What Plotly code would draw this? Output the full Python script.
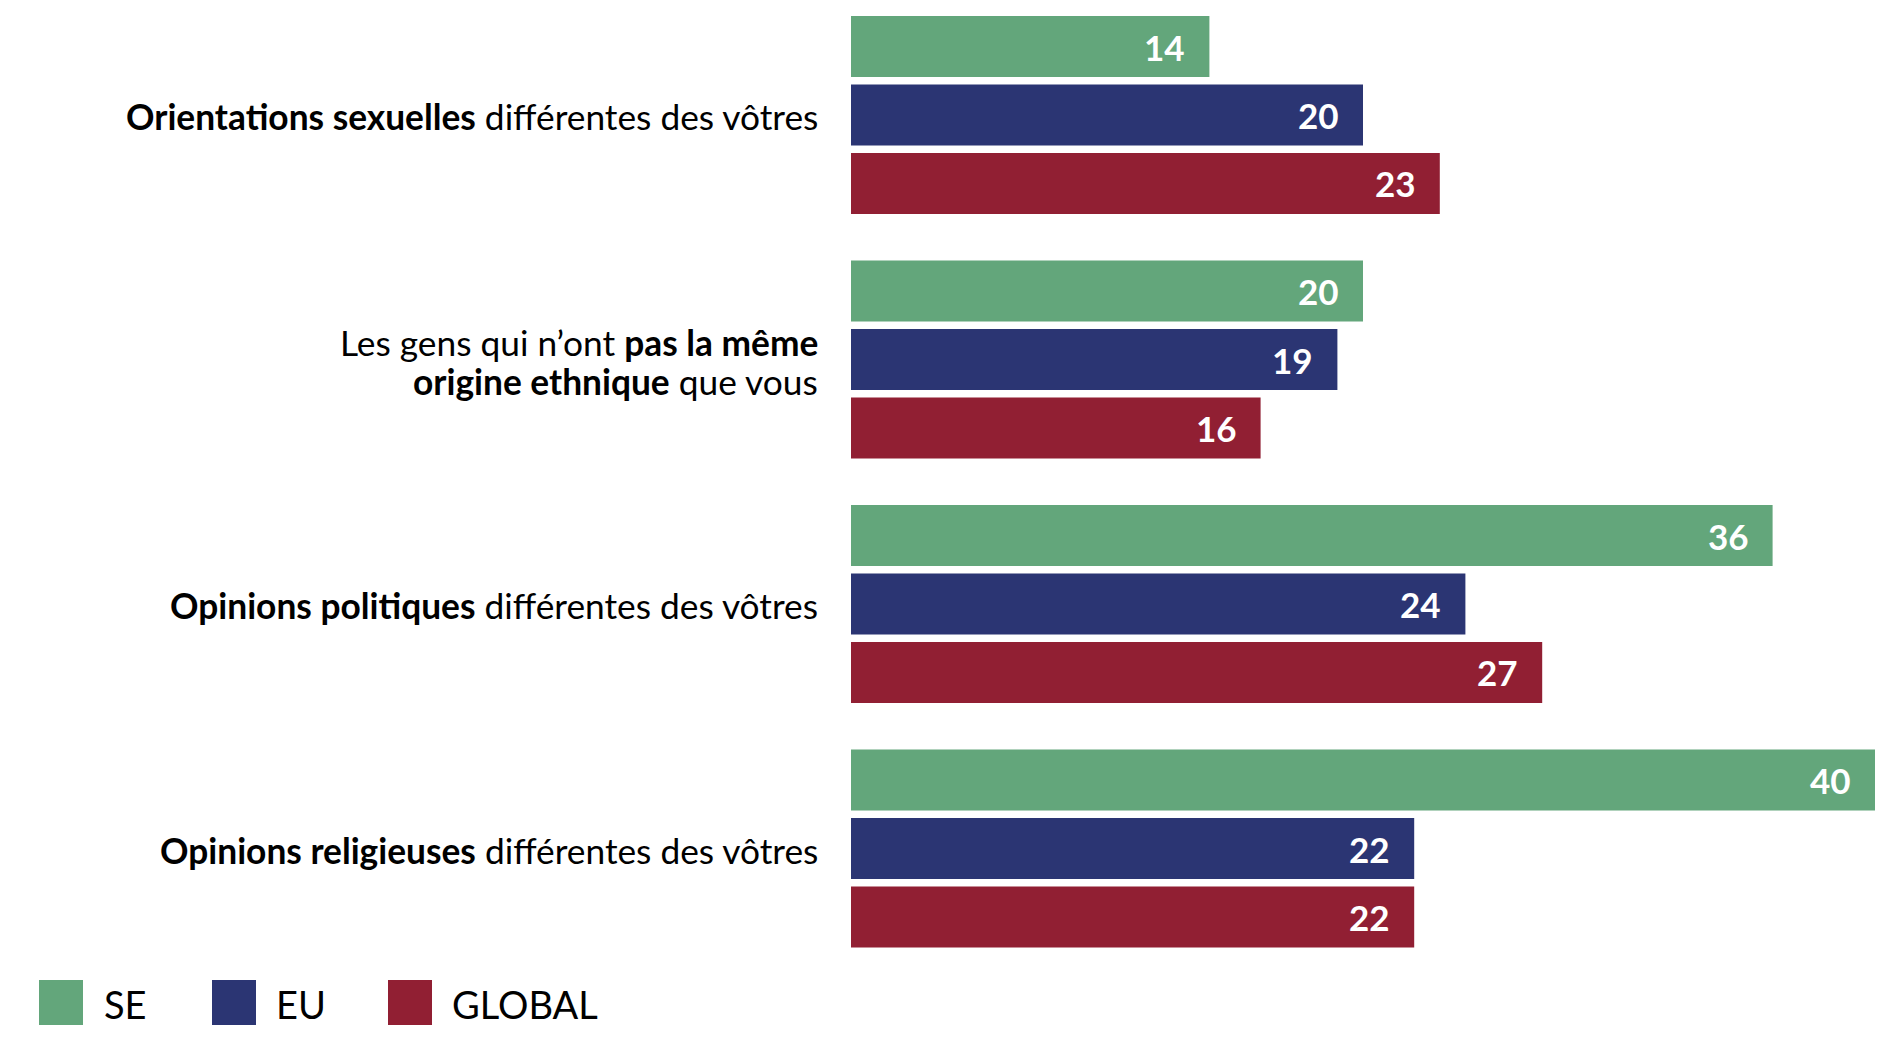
import plotly.graph_objects as go

# categories (top to bottom) and series
categories = [
    "<b>Orientations sexuelles</b> différentes des vôtres",
    "Les gens qui n’ont <b>pas la même</b><br><b>origine ethnique</b> que vous",
    "<b>Opinions politiques</b> différentes des vôtres",
    "<b>Opinions religieuses</b> différentes des vôtres",
]
series_names = ["SE", "EU", "GLOBAL"]
se_values = [14, 20, 36, 40]
eu_values = [20, 19, 24, 22]
global_values = [23, 16, 27, 22]
colors = ["#63a67b", "#2b3573", "#911f33"]

W, H = 1896, 1048
L, R, T, B = 843, 29, 0, 73
FONT = "Lato"

fig = go.Figure()
for name, vals, col in zip(series_names, [se_values, eu_values, global_values], colors):
    fig.add_trace(go.Bar(
        y=list(range(len(categories))), x=vals, name=name, orientation="h",
        marker=dict(color=col, line=dict(width=0)),
        text=[str(v) for v in vals], textposition="none",
        hoverinfo="x+name", showlegend=False,
    ))

# value labels just inside the bar ends
offsets = [-1, 0, 1]
for vals, off in zip([se_values, eu_values, global_values], offsets):
    for i, v in enumerate(vals):
        fig.add_annotation(
            x=v, y=i + off * 0.28, xref="x", yref="y", text="<b>%d</b>" % v,
            showarrow=False, xanchor="right", xshift=-22, yshift=0,
            font=dict(family=FONT, size=35, color="white"),
        )

# category labels, one annotation per line so the line spacing can be tightened
line_gap = 39
for i, cat in enumerate(categories):
    lines = cat.split("<br>")
    n = len(lines)
    for k, line in enumerate(lines):
        fig.add_annotation(
            x=0, y=i, xref="x", yref="y", text=line, showarrow=False,
            xanchor="right", yanchor="middle", xshift=-31,
            yshift=-(k - (n - 1) / 2) * line_gap - (2.5 if n > 1 else 1.5),
            font=dict(family=FONT, size=35.3, color="black"),
        )

# legend drawn by hand (big square swatches)
def px_x(p):
    return (p - L) / (W - L - R)

def px_y(p):
    return (H - B - p) / (H - T - B)

leg_box_x = [31, 204, 380]
leg_text_x = [94, 266, 442]
for name, col, bx, tx in zip(series_names, colors, leg_box_x, leg_text_x):
    fig.add_shape(type="rect", xref="paper", yref="paper",
                  x0=px_x(bx), x1=px_x(bx + 44), y0=px_y(1017), y1=px_y(972),
                  fillcolor=col, line=dict(width=0))
    fig.add_annotation(xref="paper", yref="paper", x=px_x(tx), y=px_y(996),
                       text=name, showarrow=False, xanchor="left", yanchor="middle",
                       font=dict(family=FONT, size=38, color="black"))

pitch = 244.5
fig.update_layout(
    width=W, height=H,
    margin=dict(l=L, r=R, t=T, b=B, pad=0),
    paper_bgcolor="white", plot_bgcolor="white",
    barmode="group", bargap=0.16, bargroupgap=0.11,
    font=dict(family=FONT, color="black"),
    xaxis=dict(range=[0, 40], visible=False, fixedrange=True),
    yaxis=dict(
        range=[3 + (975 - 840.5) / pitch, -107 / pitch],
        showgrid=False, zeroline=False, showline=False, ticks="",
        showticklabels=False, fixedrange=True,
    ),
)

fig.write_html("out.html")
